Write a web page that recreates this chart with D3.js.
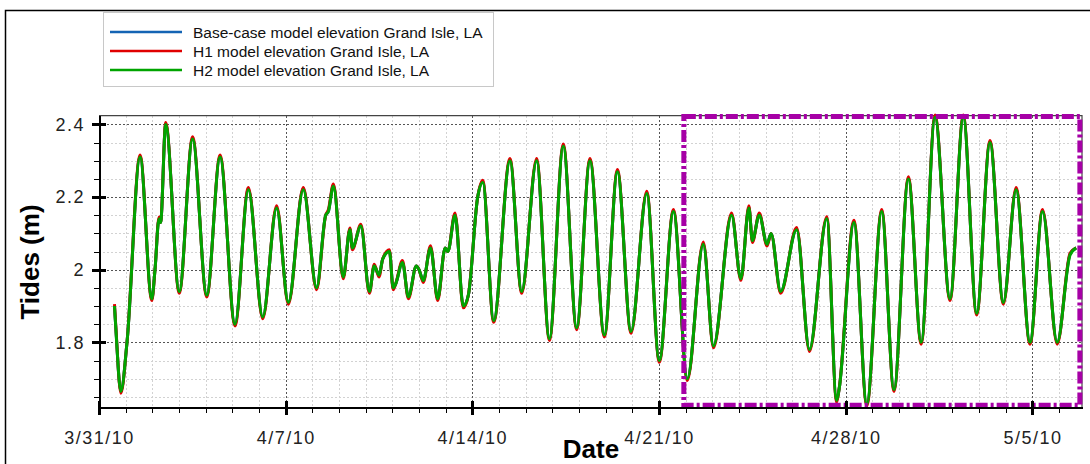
<!DOCTYPE html>
<html lang="en">
<head>
<meta charset="utf-8">
<script src="https://d3js.org/d3.v7.min.js" charset="utf-8"></script>
<title>Tides Grand Isle, LA</title>
<style>
 body { margin: 0; background: #fff; }
 text { font-family: "Liberation Sans", Arial, sans-serif; }
 .axis .tick text { font-size: 18px; fill: #222; letter-spacing: 1.5px; }
 .axis path, .axis line { stroke: #000; shape-rendering: crispEdges; }
 .grid-minor line { stroke: #d2d2d2; stroke-dasharray: 2,2; shape-rendering: crispEdges; }
 .grid-major line { stroke: #555; stroke-dasharray: 2,2; shape-rendering: crispEdges; }
 .legend text { font-size: 15.5px; fill: #111; }
 .title { font-size: 26px; font-weight: bold; fill: #000; }
</style>
</head>
<body>
<svg id="chart" width="1090" height="464"></svg>
<script>

// days after 3/31/10 00:00 (turning points)
var tideDays = [0.58,0.63,0.82,1.05,1.54,1.98,2.10,2.25,2.31,2.50,
  3.01,3.51,4.04,4.54,5.10,5.60,6.14,6.66,7.10,7.66,
  8.16,8.50,8.60,8.79,9.16,9.41,9.50,9.82,10.14,10.32,
  10.50,10.64,10.89,11.03,11.12,11.38,11.60,11.90,12.00,12.16,
  12.43,12.70,12.98,13.08,13.35,13.66,13.85,14.20,14.39,14.80,
  15.41,15.85,16.41,16.89,17.41,17.91,18.41,18.95,19.44,19.95,
  20.54,21.01,21.54,22.06,22.66,23.04,23.72,24.07,24.37,24.50,
  24.76,25.05,25.20,25.56,26.16,26.64,27.29,27.66,27.75,28.31,
  28.79,29.35,29.81,30.35,30.83,31.35,31.91,32.41,32.91,33.41,
  33.91,34.39,34.91,35.38,35.93,36.41,36.64];

var baseElev = [1.90,1.84,1.665,1.80,2.312,1.92,2.00,2.14,2.13,2.402,
  1.94,2.362,1.93,2.31,1.85,2.223,1.87,2.17,1.91,2.224,
  1.95,2.15,2.16,2.233,1.98,2.112,2.06,2.12,1.94,2.01,
  1.985,2.03,2.052,1.95,1.96,2.02,1.925,2.01,2.00,1.97,
  2.062,1.92,2.06,2.05,2.152,1.90,1.93,2.20,2.243,1.86,
  2.302,1.94,2.30,1.81,2.342,1.84,2.302,1.82,2.272,1.83,
  2.212,1.75,2.162,1.70,2.072,1.79,2.152,1.975,2.172,2.08,
  2.152,2.07,2.10,1.94,2.112,1.78,2.142,1.64,1.67,2.132,
  1.63,2.162,1.67,2.252,1.80,2.422,1.92,2.422,1.88,2.352,
  1.91,2.222,1.80,2.162,1.80,2.042,2.06];

var h1Elev = [1.905,1.845,1.66,1.80,2.316,1.915,2.00,2.145,2.13,2.405,
  1.935,2.366,1.925,2.316,1.845,2.226,1.865,2.176,1.905,2.226,
  1.945,2.15,2.165,2.236,1.975,2.115,2.055,2.125,1.935,2.015,
  1.98,2.03,2.055,1.945,1.96,2.025,1.92,2.01,2.00,1.965,
  2.066,1.915,2.06,2.05,2.156,1.895,1.93,2.20,2.246,1.855,
  2.306,1.935,2.306,1.805,2.346,1.835,2.306,1.815,2.276,1.825,
  2.216,1.745,2.166,1.695,2.076,1.785,2.156,1.97,2.176,2.075,
  2.156,2.065,2.10,1.935,2.116,1.775,2.146,1.635,1.67,2.136,
  1.625,2.166,1.665,2.256,1.795,2.426,1.915,2.426,1.875,2.356,
  1.905,2.226,1.795,2.166,1.795,2.045,2.06];

var h2Elev = [1.90,1.84,1.665,1.80,2.31,1.92,2.00,2.14,2.13,2.40,
  1.94,2.36,1.93,2.31,1.85,2.22,1.87,2.17,1.91,2.22,
  1.95,2.15,2.16,2.23,1.98,2.11,2.06,2.12,1.94,2.01,
  1.985,2.03,2.05,1.95,1.96,2.02,1.925,2.01,2.00,1.97,
  2.06,1.92,2.06,2.05,2.15,1.90,1.93,2.20,2.24,1.86,
  2.30,1.94,2.30,1.81,2.34,1.84,2.30,1.82,2.27,1.83,
  2.21,1.75,2.16,1.70,2.07,1.79,2.15,1.975,2.17,2.08,
  2.15,2.07,2.10,1.94,2.11,1.78,2.14,1.64,1.67,2.13,
  1.63,2.16,1.67,2.25,1.80,2.42,1.92,2.42,1.88,2.35,
  1.91,2.22,1.80,2.16,1.80,2.04,2.06];

var seriesNames = ["Base-case model elevation Grand Isle, LA",
  "H1 model elevation Grand Isle, LA",
  "H2 model elevation Grand Isle, LA"];
var seriesColors = ["#1464b4", "#e00000", "#00a400"];

var xTickLabels = ["3/31/10", "4/7/10", "4/14/10", "4/21/10", "4/28/10", "5/5/10"];
var yMajorTicks = [1.8, 2, 2.2, 2.4];
var yMinorTicks = [1.65, 1.7, 1.75, 1.85, 1.9, 1.95, 2.05, 2.1, 2.15, 2.25, 2.3, 2.35];
var yDomain = [1.622, 2.424];
var xEndDay = 36.86;

// dashed box (days after 3/31/10, tide range)
var boxDays = [21.93, 36.78];
var boxRange = [1.627, 2.422];

var start = new Date(2010, 2, 31);
function dayToDate(d) { return new Date(start.getTime() + d * 864e5); }
var parseTick = d3.timeParse("%m/%d/%y");
var majorDates = xTickLabels.map(parseTick);

var plot = {left: 99, right: 1082, top: 115.7, bottom: 407};

var svg = d3.select("#chart");

var x = d3.scaleTime()
    .domain([start, dayToDate(xEndDay)])
    .range([plot.left, plot.right]);

var y = d3.scaleLinear()
    .domain(yDomain)
    .range([plot.bottom, plot.top]);

var dayTicks = d3.timeDay.range(start, dayToDate(xEndDay));

// outer frame
svg.append("rect")
    .attr("x", 5.5).attr("y", 10.5)
    .attr("width", 1100).attr("height", 470)
    .attr("fill", "none")
    .attr("stroke", "#000")
    .attr("stroke-width", 1.5);

// grid
var gMinor = svg.append("g").attr("class", "grid-minor");
gMinor.selectAll(".vx").data(dayTicks).join("line")
    .attr("x1", function(d) { return Math.round(x(d)) + 0.5; })
    .attr("x2", function(d) { return Math.round(x(d)) + 0.5; })
    .attr("y1", plot.top).attr("y2", plot.bottom);
gMinor.selectAll(".hy").data(yMinorTicks).join("line")
    .attr("x1", plot.left).attr("x2", plot.right)
    .attr("y1", function(d) { return Math.round(y(d)) + 0.5; })
    .attr("y2", function(d) { return Math.round(y(d)) + 0.5; });

var gMajor = svg.append("g").attr("class", "grid-major");
gMajor.selectAll(".vx").data(majorDates).join("line")
    .attr("x1", function(d) { return Math.round(x(d)) + 0.5; })
    .attr("x2", function(d) { return Math.round(x(d)) + 0.5; })
    .attr("y1", plot.top).attr("y2", plot.bottom);
gMajor.selectAll(".hy").data(yMajorTicks).join("line")
    .attr("x1", plot.left).attr("x2", plot.right)
    .attr("y1", function(d) { return Math.round(y(d)) + 0.5; })
    .attr("y2", function(d) { return Math.round(y(d)) + 0.5; });

// top / right border of plot
svg.append("path")
    .attr("d", "M" + plot.left + "," + plot.top + "H" + plot.right + "V" + plot.bottom)
    .attr("fill", "none")
    .attr("stroke", "#444")
    .attr("stroke-width", 1.2);

// tide lines
var line = d3.line()
    .x(function(d) { return x(d.date); })
    .y(function(d) { return y(d.v); })
    .curve(d3.curveMonotoneX);

[baseElev, h1Elev, h2Elev].forEach(function(vals, i) {
  var pts = tideDays.map(function(d, j) { return {date: dayToDate(d), v: vals[j]}; });
  svg.append("path")
      .datum(pts)
      .attr("fill", "none")
      .attr("stroke", seriesColors[i])
      .attr("stroke-width", 3)
      .attr("stroke-linejoin", "round")
      .attr("d", line);
});

// dash-dot highlight box
svg.append("rect")
    .attr("x", x(dayToDate(boxDays[0])))
    .attr("y", y(boxRange[1]))
    .attr("width", x(dayToDate(boxDays[1])) - x(dayToDate(boxDays[0])))
    .attr("height", y(boxRange[0]) - y(boxRange[1]))
    .attr("fill", "none")
    .attr("stroke", "#a600a6")
    .attr("stroke-width", 5)
    .attr("stroke-dasharray", "12,3,3,3");

// x axis
var xMinor = svg.append("g")
    .attr("class", "axis")
    .attr("transform", "translate(0," + plot.bottom + ")")
    .call(d3.axisBottom(x).tickValues(dayTicks).tickSize(6).tickFormat(""));
xMinor.select(".domain").remove();

var xAxis = svg.append("g")
    .attr("class", "axis")
    .attr("transform", "translate(0," + plot.bottom + ")")
    .call(d3.axisBottom(x)
      .tickValues(majorDates)
      .tickSize(8)
      .tickSizeOuter(0)
      .tickPadding(16)
      .tickFormat(d3.timeFormat("%-m/%-d/%y")));
xAxis.select(".domain").attr("stroke-width", 2);
xAxis.selectAll(".tick line").attr("y1", -6).attr("stroke-width", 3);

// y axis
var yMinor = svg.append("g")
    .attr("class", "axis")
    .attr("transform", "translate(" + plot.left + ",0)")
    .call(d3.axisLeft(y).tickValues(yMinorTicks).tickSize(5).tickFormat(""));
yMinor.select(".domain").remove();

var yAxis = svg.append("g")
    .attr("class", "axis")
    .attr("transform", "translate(" + plot.left + ",0)")
    .call(d3.axisLeft(y)
      .tickValues(yMajorTicks)
      .tickSize(7)
      .tickSizeOuter(0)
      .tickPadding(7)
      .tickFormat(d3.format("")));
yAxis.select(".domain").attr("stroke-width", 2);
yAxis.selectAll(".tick line").attr("x1", 7).attr("stroke-width", 3);

// axis titles
svg.append("text")
    .attr("class", "title")
    .attr("transform", "translate(39,262) rotate(-90)")
    .attr("text-anchor", "middle")
    .text("Tides (m)");

svg.append("text")
    .attr("class", "title")
    .attr("x", 591)
    .attr("y", 458)
    .attr("text-anchor", "middle")
    .text("Date");

// legend
var legend = svg.append("g").attr("class", "legend");
legend.append("rect")
    .attr("x", 103.5).attr("y", 12.5)
    .attr("width", 390).attr("height", 74)
    .attr("fill", "#fff")
    .attr("stroke", "#c8c8c8");

var rows = legend.selectAll(".row")
    .data(seriesNames)
    .enter().append("g")
    .attr("transform", function(d, i) { return "translate(0," + (32 + i * 19) + ")"; });

rows.append("line")
    .attr("x1", 110).attr("x2", 182)
    .attr("stroke", function(d, i) { return seriesColors[i]; })
    .attr("stroke-width", 2.5);

rows.append("text")
    .attr("x", 193)
    .attr("y", 5.5)
    .text(function(d) { return d; });

</script>
</body>
</html>
